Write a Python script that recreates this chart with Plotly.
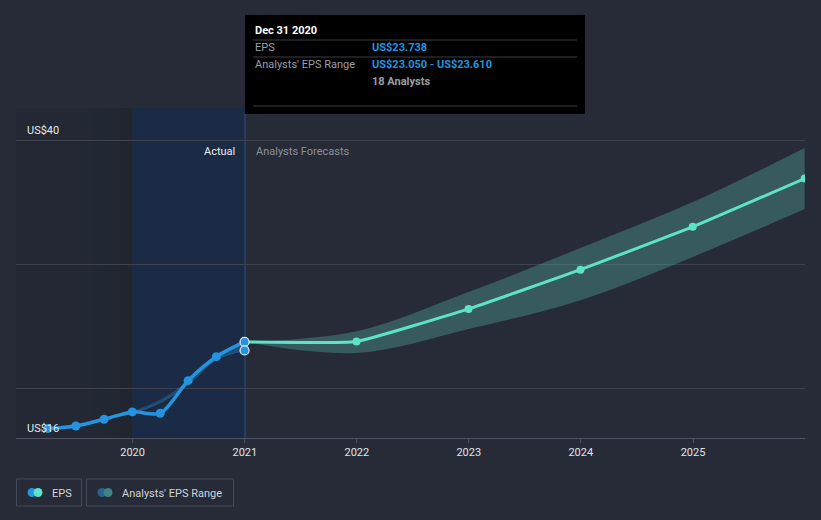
import plotly.graph_objects as go

# ---- data ----
past_dates = ["2019-03-31", "2019-06-30", "2019-09-30", "2019-12-31",
              "2020-03-31", "2020-06-30", "2020-09-30", "2020-12-31"]
past_eps = [16.76, 16.97, 17.51, 18.10, 17.99, 20.62, 22.55, 23.738]

past_range_dates = ["2019-09-30", "2019-12-31", "2020-03-31", "2020-06-30",
                    "2020-09-30", "2020-12-31"]
past_range_low = [17.5, 18.0, 18.85, 20.3, 22.3, 23.05]
past_range_high = [17.5, 18.15, 19.1, 20.6, 22.55, 23.61]

fc_dates = ["2020-12-31", "2021-12-31", "2022-12-31", "2023-12-31",
            "2024-12-31", "2025-12-31"]
fc_eps = [23.738, 23.78, 26.40, 29.56, 33.01, 36.90]
fc_low = [23.738, 22.85, 24.78, 27.1, 30.58, 34.44]
fc_high = [23.738, 24.6, 27.76, 31.3, 35.0, 39.36]

x_tick_vals = ["2020-01-01", "2021-01-01", "2022-01-01", "2023-01-01",
               "2024-01-01", "2025-01-01"]
x_tick_text = ["2020", "2021", "2022", "2023", "2024", "2025"]
y_labels = ["US$16", "US$40"]
y_label_vals = [16, 40]
grid_vals = [20, 30, 40]

# ---- layout geometry ----
W, H = 821, 520
L, R, T, B = 16, 16, 108, 82
PW, PH = W - L - R, H - T - B


def px(x):
    return (x - L) / PW


def py(y):
    return (H - B - y) / PH


BG = "#262b37"
BLUE = "#2394df"
TEAL = "#5ee3c9"

fig = go.Figure()

# past analyst range band
fig.add_trace(go.Scatter(x=past_range_dates, y=past_range_high, mode="lines",
                         line=dict(width=0, shape="spline", color="rgba(0,0,0,0)"),
                         hoverinfo="skip", showlegend=False))
fig.add_trace(go.Scatter(x=past_range_dates, y=past_range_low, mode="lines",
                         line=dict(width=1, shape="spline", color="rgba(40,100,150,0.8)"),
                         fill="tonexty", fillcolor="rgba(40,100,150,0.55)",
                         hoverinfo="skip", showlegend=False))

# forecast band
fig.add_trace(go.Scatter(x=fc_dates, y=fc_high, mode="lines",
                         line=dict(width=0, shape="spline", color="rgba(0,0,0,0)"),
                         hoverinfo="skip", showlegend=False))
fig.add_trace(go.Scatter(x=fc_dates, y=fc_low, mode="lines",
                         line=dict(width=0, shape="spline", color="rgba(0,0,0,0)"),
                         fill="tonexty", fillcolor="rgba(95,200,190,0.30)",
                         hoverinfo="skip", showlegend=False))

# forecast line
fig.add_trace(go.Scatter(x=fc_dates, y=fc_eps, mode="lines+markers",
                         line=dict(width=3, shape="spline", smoothing=0.35, color=TEAL),
                         marker=dict(size=8, color=TEAL),
                         showlegend=False))

# past EPS line
fig.add_trace(go.Scatter(x=past_dates, y=past_eps, mode="lines+markers",
                         line=dict(width=3.5, shape="spline", smoothing=0.8, color=BLUE),
                         marker=dict(size=9, color=BLUE),
                         showlegend=False))

# highlighted hover points at Dec 31 2020
fig.add_trace(go.Scatter(x=["2020-12-31", "2020-12-31"], y=[past_eps[-1], past_range_low[-1]],
                         mode="markers",
                         marker=dict(size=9, color=BLUE, line=dict(color="#dfe8f0", width=1.2)),
                         showlegend=False))

shapes = []
# darker historic region with gradient
steps = [(16, 90, "rgba(20,22,28,0.10)"), (90, 105, "rgba(20,22,28,0.16)"),
         (105, 120, "rgba(20,22,28,0.22)"), (120, 132.5, "rgba(20,22,28,0.28)")]
for x0, x1, c in steps:
    shapes.append(dict(type="rect", xref="paper", yref="paper", x0=px(x0), x1=px(x1),
                       y0=0, y1=1, fillcolor=c, line=dict(width=0), layer="below"))
# blue 'actual' region
shapes.append(dict(type="rect", xref="paper", yref="paper", x0=px(132.5), x1=px(245),
                   y0=0, y1=1, fillcolor="#1b2a45", line=dict(width=0), layer="below"))
# vertical line at present
shapes.append(dict(type="line", xref="paper", yref="paper", x0=px(245), x1=px(245),
                   y0=0, y1=py(114), line=dict(color="#2d4468", width=1.5), layer="below"))

# tooltip box
shapes.append(dict(type="rect", xref="paper", yref="paper", x0=px(245), x1=px(585),
                   y0=py(114), y1=py(15), fillcolor="#000000", line=dict(width=0)))
for yy in (40, 57, 106):
    shapes.append(dict(type="line", xref="paper", yref="paper", x0=px(253), x1=px(577),
                       y0=py(yy), y1=py(yy), line=dict(color="#3c3f45", width=1)))

# legend boxes
shapes.append(dict(type="rect", xref="paper", yref="paper", x0=px(16.5), x1=px(81.5),
                   y0=py(506), y1=py(479), fillcolor="rgba(0,0,0,0)",
                   line=dict(color="#454b58", width=1)))
shapes.append(dict(type="rect", xref="paper", yref="paper", x0=px(86.5), x1=px(233.5),
                   y0=py(506), y1=py(479), fillcolor="rgba(0,0,0,0)",
                   line=dict(color="#454b58", width=1)))
# legend icons (two overlapping circles each)
for cx, col in [(32, BLUE), (38, TEAL), (102, "#2a6190"), (108, "#3e8584")]:
    shapes.append(dict(type="circle", xref="paper", yref="paper",
                       x0=px(cx - 4.5), x1=px(cx + 4.5), y0=py(497), y1=py(488),
                       fillcolor=col, line=dict(width=0)))

ann = []
FONT = "Roboto, 'Open Sans', Arial, sans-serif"
# y labels
for lab, v in zip(y_labels, y_label_vals):
    ann.append(dict(x=px(25), y=v, xref="paper", yref="y", text=lab, showarrow=False,
                    xanchor="left", yanchor="bottom", yshift=1,
                    font=dict(size=11, color="#e6e8eb", family=FONT)))
ann.append(dict(x=px(237), y=py(151), xref="paper", yref="paper", text="Actual",
                showarrow=False, xanchor="right", yanchor="middle",
                font=dict(size=11, color="#e8eaed", family=FONT)))
ann.append(dict(x=px(254), y=py(151), xref="paper", yref="paper", text="Analysts Forecasts",
                showarrow=False, xanchor="left", yanchor="middle",
                font=dict(size=11, color="#8b909a", family=FONT)))
# tooltip text
tt = [
    (253, 31, "<b>Dec 31 2020</b>", "#ffffff"),
    (253, 48, "EPS", "#9a9ea6"),
    (370, 48, "<b>US$23.738</b>", "#2394df"),
    (253, 65, "Analysts' EPS Range", "#9a9ea6"),
    (370, 65, "<b>US$23.050 - US$23.610</b>", "#2394df"),
    (370, 81, "<b>18 Analysts</b>", "#9a9ea6"),
]
for x, y, t, c in tt:
    ann.append(dict(x=px(x), y=py(y), xref="paper", yref="paper", text=t, showarrow=False,
                    xanchor="left", yanchor="middle",
                    font=dict(size=11, color=c, family=FONT)))
# legend text
ann.append(dict(x=px(50), y=py(493), xref="paper", yref="paper", text="EPS", showarrow=False,
                xanchor="left", yanchor="middle", font=dict(size=11, color="#d0d4da", family=FONT)))
ann.append(dict(x=px(120), y=py(493), xref="paper", yref="paper", text="Analysts' EPS Range",
                showarrow=False, xanchor="left", yanchor="middle",
                font=dict(size=11, color="#d0d4da", family=FONT)))

fig.update_layout(
    width=W, height=H,
    margin=dict(l=L, r=R, t=T, b=B, pad=0, autoexpand=False),
    paper_bgcolor=BG, plot_bgcolor=BG,
    showlegend=False,
    shapes=shapes, annotations=ann,
    hovermode=False,
    xaxis=dict(type="date", range=["2018-12-17", "2026-01-01"],
               tickmode="array", tickvals=x_tick_vals, ticktext=x_tick_text,
               showgrid=False, zeroline=False, automargin=False,
               showline=True, linecolor="#4e5461", linewidth=1,
               ticks="outside", ticklen=4, tickcolor="#4e5461",
               tickfont=dict(size=11, color="#e0e3e7", family=FONT)),
    yaxis=dict(range=[16, 42.58], tickvals=grid_vals, showticklabels=False,
               showgrid=True, gridcolor="#3d424e", gridwidth=1, automargin=False,
               zeroline=False, showline=False, fixedrange=True),
)

fig.write_html("out.html")
